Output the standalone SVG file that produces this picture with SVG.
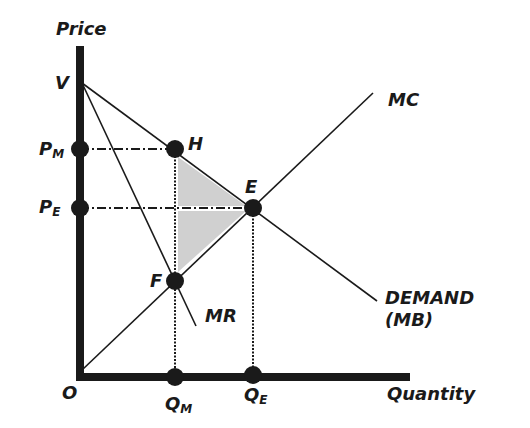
<svg xmlns="http://www.w3.org/2000/svg" width="530" height="428" viewBox="0 0 530 428">
<style>
.t{font-family:"DejaVu Sans",Verdana,sans-serif;font-weight:bold;font-style:italic;fill:#1a1a1a;font-size:18px}
.s{font-size:12px}
.ln{stroke:#1a1a1a;stroke-width:1.6;fill:none}
.dd{stroke:#1a1a1a;stroke-width:2;stroke-dasharray:9 3 2 3;fill:none}
.dot{stroke:#1a1a1a;stroke-width:2;stroke-dasharray:2 1.5;fill:none}
.pt{fill:#1a1a1a}
</style>
<rect width="530" height="428" fill="#fff"/>
<g id="shade">
<polygon points="178,157 246,206 178,206" fill="#d0d0d0"/>
<polygon points="178,211 246,211 178,272" fill="#d0d0d0"/>
</g>
<g id="connectors">
<line class="ln" x1="82" y1="83" x2="377" y2="301"/>
<line class="ln" x1="82" y1="83" x2="196" y2="326"/>
<line class="ln" x1="82" y1="370" x2="373" y2="93"/>
<line class="dd" x1="80" y1="149" x2="175" y2="149"/>
<line class="dd" x1="80" y1="208" x2="253" y2="208"/>
<line class="dot" x1="175" y1="149" x2="175" y2="377"/>
<line class="dot" x1="253" y1="208" x2="253" y2="377"/>
</g>
<g id="axes">
<rect x="76" y="46" width="8" height="335" fill="#1a1a1a"/>
<rect x="76" y="373" width="334" height="8" fill="#1a1a1a"/>
</g>
<g id="V"><text class="t" x="55" y="89">V</text></g>
<g id="PM"><circle class="pt" cx="80" cy="149" r="9"/><text class="t" x="39" y="155">P<tspan class="s" dy="3">M</tspan></text></g>
<g id="PE"><circle class="pt" cx="80" cy="208" r="9"/><text class="t" x="39" y="213">P<tspan class="s" dy="3">E</tspan></text></g>
<g id="H"><circle class="pt" cx="175" cy="149" r="9"/><text class="t" x="188" y="150">H</text></g>
<g id="E"><circle class="pt" cx="253" cy="208" r="9"/><text class="t" x="245" y="193">E</text></g>
<g id="F"><circle class="pt" cx="175" cy="281" r="9"/><text class="t" x="150" y="287">F</text></g>
<g id="QM"><circle class="pt" cx="175" cy="377" r="9"/><text class="t" x="165" y="410">Q<tspan class="s" dy="3">M</tspan></text></g>
<g id="QE"><circle class="pt" cx="253" cy="375" r="9"/><text class="t" x="244" y="401">Q<tspan class="s" dy="3">E</tspan></text></g>
<g id="labels">
<text class="t" x="56" y="35">Price</text>
<text class="t" x="388" y="106">MC</text>
<text class="t" x="385" y="304">DEMAND</text>
<text class="t" x="385" y="326">(MB)</text>
<text class="t" x="205" y="322">MR</text>
<text class="t" x="62" y="399">O</text>
<text class="t" x="387" y="400">Quantity</text>
</g>
</svg>
